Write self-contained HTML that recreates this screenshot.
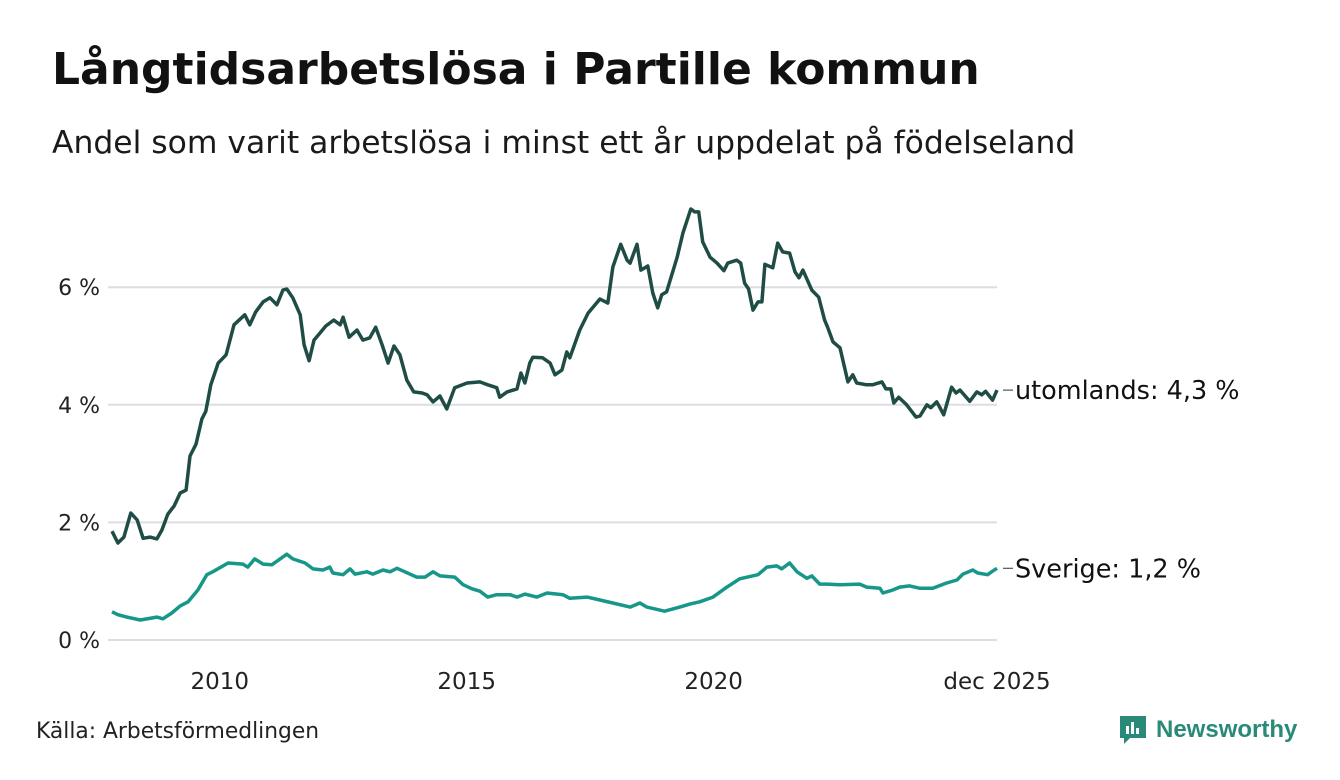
<!DOCTYPE html>
<html><head><meta charset="utf-8">
<style>
body{margin:0;width:1340px;height:780px;background:#fff;font-family:"DejaVu Sans","Liberation Sans",sans-serif;color:#111;overflow:hidden;position:relative}
#title{position:absolute;left:52px;top:44px;font-size:44px;font-weight:bold;margin:0}
#sub{position:absolute;left:52px;top:125px;font-size:31.4px;margin:0;color:#1a1a1a}
#src{position:absolute;left:36px;top:719px;font-size:21.8px;color:#222}
#logo{position:absolute;left:1118px;top:714px;display:flex;align-items:center}
#logo span{font-family:"Liberation Sans",sans-serif;font-size:24px;font-weight:bold;color:#2a8a7a;margin-left:8px}
</style></head><body>
<h1 id="title">Långtidsarbetslösa i Partille kommun</h1>
<p id="sub">Andel som varit arbetslösa i minst ett år uppdelat på födelseland</p>
<svg id="chart" width="1340" height="780" style="position:absolute;left:0;top:0"></svg>
<div id="src">Källa: Arbetsförmedlingen</div>
<div id="logo">
<svg width="30" height="32" viewBox="0 0 30 32"><path d="M2 2h26v22H12l-6 6v-6H2z" fill="#2a8a7a"/><rect x="8" y="12" width="3" height="8" fill="#fff"/><rect x="13" y="8" width="3" height="12" fill="#fff"/><rect x="18" y="14" width="3" height="6" fill="#fff"/></svg>
<span>Newsworthy</span></div>
<script>
const yTicks=[0,2,4,6];
const yTickLabels=["0 %","2 %","4 %","6 %"];
const xTicks=[2010,2015,2020,2025.92];
const xTickLabels=["2010","2015","2020","dec 2025"];
const abroadDates=[2008.00,2008.12,2008.24,2008.38,2008.51,2008.63,2008.77,2008.91,2009.01,2009.13,2009.26,2009.38,2009.50,2009.58,2009.70,2009.82,2009.90,2010.00,2010.15,2010.31,2010.47,2010.69,2010.79,2010.91,2011.06,2011.20,2011.34,2011.46,2011.54,2011.66,2011.81,2011.89,2011.99,2012.09,2012.21,2012.33,2012.49,2012.62,2012.68,2012.80,2012.96,2013.08,2013.22,2013.34,2013.47,2013.59,2013.71,2013.83,2013.97,2014.11,2014.28,2014.38,2014.50,2014.64,2014.78,2014.94,2015.19,2015.45,2015.61,2015.79,2015.85,2016.00,2016.20,2016.28,2016.36,2016.46,2016.52,2016.72,2016.87,2016.97,2017.11,2017.21,2017.27,2017.47,2017.64,2017.88,2018.04,2018.14,2018.30,2018.43,2018.49,2018.63,2018.71,2018.85,2018.95,2019.05,2019.13,2019.23,2019.44,2019.56,2019.72,2019.80,2019.88,2019.96,2020.11,2020.25,2020.39,2020.47,2020.65,2020.73,2020.81,2020.89,2020.98,2021.08,2021.16,2021.22,2021.38,2021.48,2021.58,2021.72,2021.83,2021.91,2021.99,2022.17,2022.31,2022.43,2022.49,2022.60,2022.74,2022.90,2023.00,2023.08,2023.28,2023.40,2023.59,2023.67,2023.77,2023.83,2023.93,2024.09,2024.28,2024.36,2024.50,2024.58,2024.70,2024.76,2024.84,2025.00,2025.09,2025.17,2025.37,2025.51,2025.61,2025.69,2025.83,2025.92];
const abroadValues=[1.85,1.65,1.75,2.16,2.04,1.73,1.75,1.72,1.87,2.14,2.28,2.50,2.55,3.13,3.33,3.76,3.89,4.34,4.71,4.85,5.36,5.53,5.36,5.58,5.75,5.82,5.70,5.95,5.97,5.82,5.53,5.02,4.75,5.10,5.22,5.34,5.44,5.36,5.49,5.15,5.27,5.10,5.14,5.32,5.02,4.71,5.00,4.85,4.42,4.22,4.20,4.17,4.05,4.15,3.93,4.29,4.37,4.39,4.34,4.29,4.13,4.22,4.27,4.54,4.37,4.71,4.81,4.80,4.71,4.51,4.59,4.90,4.80,5.27,5.56,5.80,5.73,6.34,6.73,6.46,6.41,6.73,6.29,6.36,5.90,5.65,5.87,5.92,6.50,6.92,7.33,7.28,7.28,6.77,6.51,6.41,6.28,6.41,6.46,6.41,6.07,5.97,5.61,5.75,5.75,6.39,6.33,6.75,6.60,6.58,6.26,6.16,6.29,5.95,5.83,5.44,5.32,5.07,4.97,4.39,4.51,4.37,4.34,4.34,4.39,4.27,4.27,4.03,4.13,4.00,3.79,3.81,4.00,3.95,4.05,3.96,3.83,4.30,4.20,4.25,4.06,4.22,4.17,4.23,4.08,4.25];
const swedenDates=[2008.00,2008.12,2008.30,2008.57,2008.91,2009.03,2009.21,2009.38,2009.54,2009.74,2009.92,2010.04,2010.35,2010.65,2010.75,2010.89,2011.06,2011.24,2011.54,2011.66,2011.91,2012.07,2012.27,2012.41,2012.47,2012.68,2012.82,2012.92,2013.16,2013.28,2013.49,2013.63,2013.77,2013.93,2014.17,2014.34,2014.50,2014.64,2014.94,2015.11,2015.29,2015.45,2015.61,2015.79,2016.06,2016.20,2016.36,2016.60,2016.81,2017.13,2017.27,2017.62,2017.88,2018.14,2018.49,2018.69,2018.83,2019.19,2019.50,2019.70,2019.90,2020.17,2020.45,2020.71,2021.08,2021.26,2021.46,2021.56,2021.72,2021.87,2022.07,2022.17,2022.33,2022.47,2022.74,2023.14,2023.28,2023.55,2023.61,2023.81,2023.95,2024.15,2024.36,2024.62,2024.90,2025.11,2025.23,2025.43,2025.53,2025.73,2025.81,2025.92];
const swedenValues=[0.48,0.43,0.39,0.34,0.39,0.36,0.46,0.58,0.65,0.85,1.11,1.16,1.31,1.29,1.24,1.38,1.29,1.28,1.46,1.38,1.31,1.21,1.19,1.24,1.14,1.11,1.21,1.12,1.16,1.12,1.19,1.16,1.22,1.16,1.07,1.07,1.16,1.09,1.07,0.94,0.87,0.83,0.73,0.77,0.77,0.73,0.78,0.73,0.80,0.77,0.71,0.73,0.68,0.63,0.56,0.63,0.56,0.49,0.56,0.61,0.65,0.73,0.90,1.04,1.11,1.24,1.26,1.21,1.31,1.16,1.05,1.09,0.95,0.95,0.94,0.95,0.90,0.88,0.80,0.85,0.90,0.92,0.88,0.88,0.97,1.02,1.12,1.19,1.14,1.11,1.16,1.22];
const seriesLabels=["utomlands: 4,3 %","Sverige: 1,2 %"];

const NS="http://www.w3.org/2000/svg";
const FONT="DejaVu Sans, Liberation Sans, sans-serif";
const svg=document.getElementById('chart');
const X0=112,X1=997,T0=2008,T1=2025.92;
const xs=t=>X0+(t-T0)*(X1-X0)/(T1-T0);
const ys=v=>640-v*58.8;
function mk(tag,attrs,parent){const e=document.createElementNS(NS,tag);for(const k in attrs)e.setAttribute(k,attrs[k]);(parent||svg).appendChild(e);return e;}
yTicks.forEach((v,i)=>{
  const g=mk('line',{x1:108,x2:997,y1:ys(v),y2:ys(v),stroke:'#dedde3','stroke-width':2});
  
  
  const t=mk('text',{x:100,y:ys(v)+8,'text-anchor':'end','font-size':22,fill:'#222','font-family':FONT});
  t.textContent=yTickLabels[i];
  
  
});
xTicks.forEach((v,i)=>{
  const t=mk('text',{x:xs(v)+(i==3?0:9),y:689,'text-anchor':'middle','font-size':23,fill:'#222','font-family':FONT});
  t.textContent=xTickLabels[i];
  
  
});
function line(dates,vals,color,name){
  const d=dates.map((t,i)=>(i?'L':'M')+xs(t).toFixed(1)+','+ys(vals[i]).toFixed(1)).join('');
  const p=mk('path',{d:d,fill:'none',stroke:color,'stroke-width':3.5,'stroke-linejoin':'round'});
  
  
}
line(swedenDates,swedenValues,'#17978a','sverige-line');
line(abroadDates,abroadValues,'#1f4d45','utomlands-line');
[[abroadValues,0],[swedenValues,1]].forEach(([vals,i])=>{
  const y=ys(vals[vals.length-1]);
  const c=mk('line',{x1:1003,x2:1013,y1:y,y2:y,stroke:'#333','stroke-width':1});
  
  
  const t=mk('text',{x:1015,y:y+9,'font-size':25.5,fill:'#111','font-family':FONT});
  t.textContent=seriesLabels[i];
  
  
});
</script>
</body></html>
